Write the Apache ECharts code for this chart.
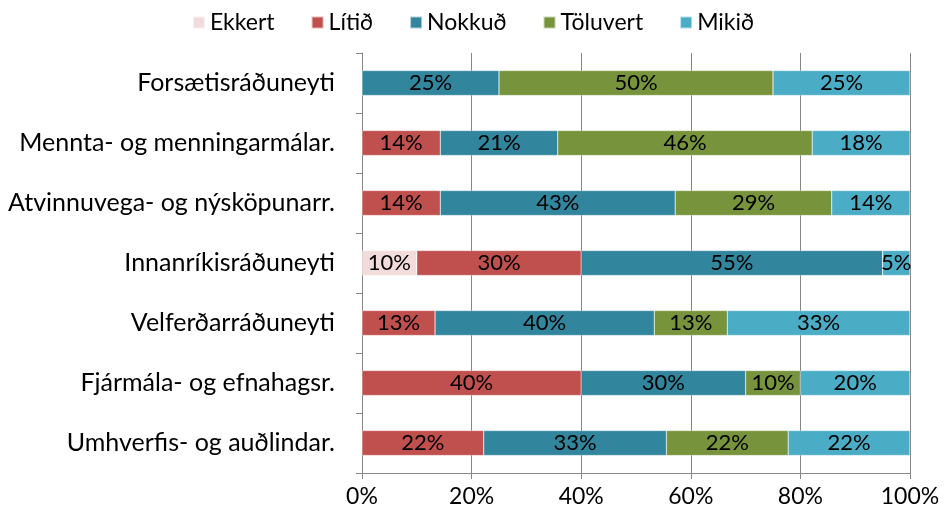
<!DOCTYPE html>
<html><head><meta charset="utf-8">
<script src="https://cdn.jsdelivr.net/npm/echarts@6/dist/echarts.min.js"></script>
<style>html,body{margin:0;padding:0;background:#fff}#c{width:946px;height:520px}</style>
</head><body><div id="c"></div>
<script>
var categories = ['Forsætisráðuneyti','Mennta- og menningarmálar.','Atvinnuvega- og nýsköpunarr.','Innanríkisráðuneyti','Velferðarráðuneyti','Fjármála- og efnahagsr.','Umhverfis- og auðlindar.'];
var seriesNames = ['Ekkert','Lítið','Nokkuð','Töluvert','Mikið'];
var colors = ['#F2DCDB','#C0504D','#31859C','#77933C','#4BACC6'];
var ekkert   = [0, 0, 0, 10, 0, 0, 0];
var litid    = [0, 14.29, 14.29, 30, 13.33, 40, 22.22];
var nokkud   = [25, 21.43, 42.86, 55, 40, 30, 33.33];
var toluvert = [50, 46.43, 28.57, 0, 13.33, 10, 22.22];
var mikid    = [25, 17.86, 14.29, 5, 33.33, 20, 22.22];
var xTicks = [0, 20, 40, 60, 80, 100];
var allData = [ekkert, litid, nokkud, toluvert, mikid];
var font = 'Lato, Open Sans, sans-serif';
var chart = echarts.init(document.getElementById('c'));
chart.setOption({
  animation:false,
  textStyle:{fontFamily:font},
  legend:{top:6,left:'center',itemWidth:12,itemHeight:12,itemGap:36,icon:'rect',
    textStyle:{fontSize:23,color:'#000',fontFamily:font},data:seriesNames},
  grid:{left:362,right:36,top:53,bottom:47},
  xAxis:{type:'value',min:xTicks[0],max:xTicks[xTicks.length-1],interval:20,
    axisLine:{show:true,lineStyle:{color:'#868686',width:1}},
    axisTick:{show:true,length:6,lineStyle:{color:'#868686'}},
    splitLine:{show:true,lineStyle:{color:'#868686',width:1}},
    axisLabel:{formatter:'{value}%',fontSize:23,color:'#000',margin:12,fontFamily:font}},
  yAxis:{type:'category',inverse:true,data:categories,
    axisLine:{show:true,lineStyle:{color:'#868686'}},
    axisTick:{show:true,length:6,lineStyle:{color:'#868686'}},
    axisLabel:{fontSize:25,color:'#000',margin:27,fontFamily:font}},
  series: seriesNames.map(function(n,i){
    return {name:n,type:'bar',stack:'a',barWidth:25,
      itemStyle:{color:colors[i],borderColor:'rgba(255,255,255,0.6)',borderWidth:0.5},
      label:{show:true,position:'inside',fontSize:22,color:'#000',fontFamily:font,
        formatter:function(p){return p.value>0?Math.round(p.value)+'%':'';}},
      data:allData[i]};
  })
});
</script></body></html>
